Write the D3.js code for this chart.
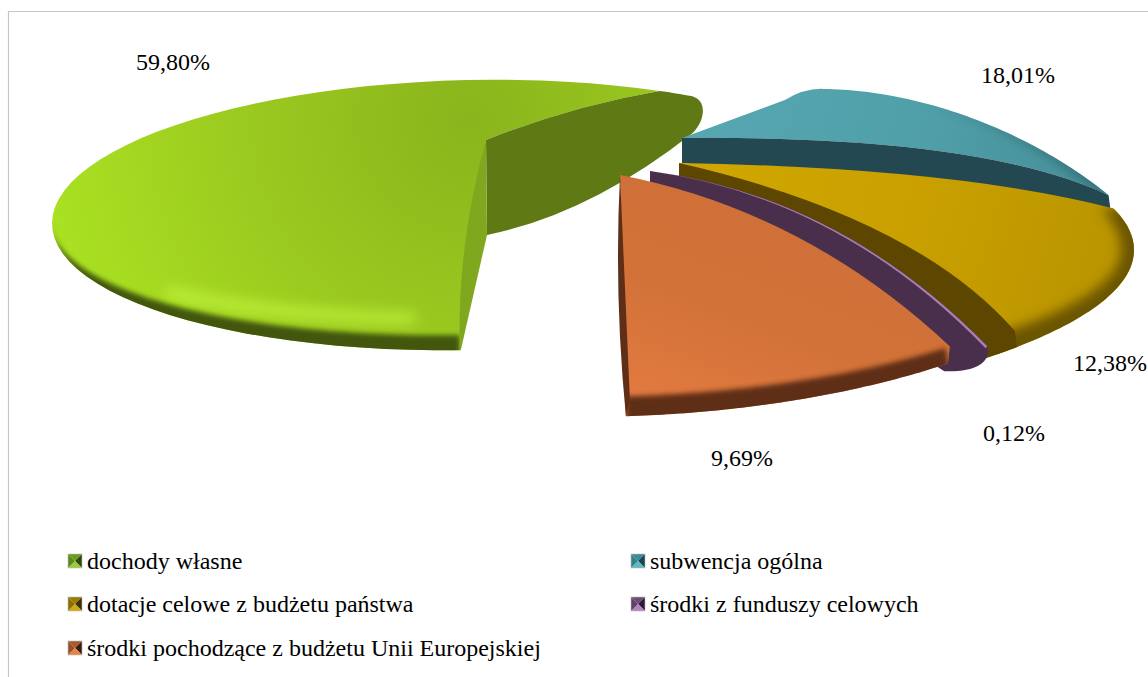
<!DOCTYPE html>
<html><head><meta charset="utf-8">
<style>html,body{margin:0;padding:0;background:#fff;overflow:hidden}svg{display:block}text{font-family:"Liberation Serif",serif;fill:#000}</style>
<script src="https://cdn.jsdelivr.net/npm/d3@7"></script></head><body><div id="c"></div>
<script>
// ---- data
const categories=["dochody własne","subwencja ogólna","dotacje celowe z budżetu państwa","środki z funduszy celowych","środki pochodzące z budżetu Unii Europejskiej"];
const shares=[59.80,18.01,12.38,0.12,9.69];
// ---- layout and style, per slice
const W=1148,H=677;
const rims=[
 {cx:470,cy:215,rx:418,ry:135,s:-.02,t0:91.4,k:.955,apex:[486,140]},
 {cx:920,cy:309,rx:300,ry:207,s:.25,t0:-115.7,k:.997,apex:[682,138]},
 {cx:200,cy:250,rx:934,ry:200,s:0,t0:-12,k:1.003,apex:[679,163]},
 {cx:600,cy:190,rx:450,ry:307,s:0,t0:30.6,k:1,apex:[650,171]},
 {cx:580,cy:190,rx:570,ry:227,s:0,t0:49.8,k:1.02,apex:[620,175]}
];
const walls=[
 {ox:0,oy:15,color:"#425610",blur:2.6,to:200},
 {ox:14,oy:0,color:"#35727c",blur:5},
 {ox:13,oy:32,color:"#6a5500",blur:6},
 {ox:0,oy:0,color:"#4a2f4d",blur:1},
 {ox:4,oy:20,color:"#5e2e17",blur:2.4}
];
const fills=[
 {type:"r",c:[470,120],r:420,stops:["#8ab41c","#9ac81f","#a9e022"]},
 {type:"l",a:[700,100],b:[1110,200],stops:["#56a7b1","#50a0aa","#468d97"]},
 {type:"l",a:[700,170],b:[1130,300],stops:["#d0a600","#c9a000","#b89300"]},
 {type:"l",a:[650,170],b:[986,350],stops:["#a97db5","#a97db5","#a97db5"]},
 {type:"l",a:[720,190],b:[640,400],stops:["#ce7038","#d27239","#e27a40"]}
];
const swatch=[
 ["#6c9c20","#2f4a08","#9acb3c","#5f8a1a"],["#3c8c98","#17464e","#60b8c4","#34808c"],
 ["#9a7c00","#3e3000","#d2aa10","#8a7000"],["#6e4c78","#2e1c34","#b284c0","#62426a"],
 ["#a85a2c","#3e1c0a","#e88448","#96502a"]];
const labelPos=[[136,70],[981,83],[1073,371],[983,441],[711,466]];
const legendPos=[[68,561],[631,561],[68,604],[631,604],[68,648]];
// ---- geometry from the data
const arcs=d3.pie().sort(null).value(d=>d)(shares);
const deg=r=>r*180/Math.PI, rad=d=>d*Math.PI/180;
const spans=arcs.map(a=>deg(a.endAngle-a.startAngle));
const tEnd=i=>rims[i].t0+rims[i].k*spans[i];
function R(i,t){const g=rims[i],a=rad(t),u=g.rx*Math.cos(a);return [g.cx+u,g.cy+g.s*u+g.ry*Math.sin(a)];}
function T(i,t){const p=R(i,t),a=rad(t),w=walls[i];return [p[0]-w.ox*Math.max(0,Math.cos(a)),p[1]-w.oy*Math.max(0,Math.sin(a))];}
function sample(fn,i,a,b,n=60){return d3.range(n+1).map(j=>fn(i,a+(b-a)*j/n));}
function qTo(p,from,to,bend){const m=[(from[0]+to[0])/2+bend[0],(from[1]+to[1])/2+bend[1]];p.quadraticCurveTo(m[0],m[1],to[0],to[1]);}
function rimTo(p,pts){pts.forEach(q=>p.lineTo(q[0],q[1]));}
function pathOf(fn){const p=d3.path();fn(p);return p.toString();}

const svg=d3.select("#c").append("svg").attr("width",W).attr("height",H);
const defs=svg.append("defs");
[...new Set(walls.map(w=>w.blur))].forEach(b=>defs.append("filter").attr("id","b"+String(b).replace(".","_")).attr("filterUnits","userSpaceOnUse").attr("x",0).attr("y",0).attr("width",W).attr("height",H).append("feGaussianBlur").attr("stdDeviation",b));
defs.append("filter").attr("id","hl").attr("filterUnits","userSpaceOnUse").attr("x",0).attr("y",0).attr("width",W).attr("height",H).append("feGaussianBlur").attr("stdDeviation",7);
fills.forEach((f,i)=>{
 const g=f.type==="r"?defs.append("radialGradient").attr("cx",f.c[0]).attr("cy",f.c[1]).attr("r",f.r):
  defs.append("linearGradient").attr("x1",f.a[0]).attr("y1",f.a[1]).attr("x2",f.b[0]).attr("y2",f.b[1]);
 g.attr("id","g"+i).attr("gradientUnits","userSpaceOnUse");
 f.stops.forEach((c,j)=>g.append("stop").attr("offset",j/2).attr("stop-color",c));
});
svg.append("path").attr("d",`M${W+2},11.5H8.5V${H+2}`).attr("fill","none").attr("stroke","#c6c6c6").attr("stroke-width",1.2);

function drawSlice(i,d){
 const g=rims[i],w=walls[i];
 const a=g.t0, b=w.to===undefined?tEnd(i):Math.min(tEnd(i),w.to);
 defs.append("clipPath").attr("id","c"+i).append("path").attr("d",d);
 svg.append("path").attr("d",d).attr("fill",`url(#g${i})`);
 const gg=svg.append("g").attr("clip-path",`url(#c${i})`);
 const wall=pathOf(p=>{
   const out=sample((j,t)=>{const v=R(j,t),r=rad(t);return [v[0]+w.ox*1.2*Math.max(0,Math.cos(r)),v[1]+w.oy*.8*Math.max(0,Math.sin(r))];},i,a,b);
   const q=sample(T,i,a,b).reverse();
   p.moveTo(out[0][0],out[0][1]);rimTo(p,out);rimTo(p,q);p.closePath();});
 gg.append("path").attr("d",wall).attr("fill",w.color).attr("filter",`url(#b${String(w.blur).replace(".","_")})`);
 return gg;
}

// green slice
(function(){
 const g=rims[0],A=g.apex,a=g.t0,b=tEnd(0),S=R(0,a),E=R(0,b);
 const top=pathOf(p=>{p.moveTo(A[0],A[1]);p.lineTo(S[0],S[1]);rimTo(p,sample(R,0,a,b));qTo(p,E,A,[0,-10]);p.closePath();});
 const gg=drawSlice(0,top);
 const hi=sample((j,t)=>{const q=R(j,t),s=Math.sin(rad(t));return [q[0],q[1]-(walls[j].oy+17)*s];},0,98,136);
 gg.insert("path",":first-child").attr("d",d3.line()(hi)).attr("fill","none").attr("stroke","#ccff44").attr("stroke-width",9).attr("stroke-linecap","round").attr("stroke-opacity",.8).attr("filter","url(#hl)");
 // far cut face (dark)
 const X=R(0,b+5), low=[E[0]+33,E[1]+42], B=[A[0]+1,A[1]+95];
 svg.append("path").attr("fill","#5f7a15").attr("d",pathOf(p=>{p.moveTo(A[0],A[1]);qTo(p,A,E,[0,-10]);rimTo(p,sample(R,0,b,b+5,8));
   p.bezierCurveTo(X[0]+16,X[1]+4,X[0]+14,X[1]+24,low[0],low[1]);qTo(p,low,B,[0,30]);p.closePath();}));
 // near cut face (light)
 svg.append("path").attr("fill","#80a81e").attr("d",pathOf(p=>{p.moveTo(A[0],A[1]);qTo(p,A,S,[-16,0]);p.lineTo(S[0]+1,S[1]);p.lineTo(B[0],B[1]);p.closePath();}));
})();

// teal slice
(function(){
 const g=rims[1],A=g.apex,a=g.t0,b=tEnd(1),S=R(1,a),E=R(1,b),S2=R(1,a+7);
 const bend=[85,-31.5];
 const top=pathOf(p=>{p.moveTo(A[0],A[1]);p.lineTo(S[0]-5,S[1]+10);p.quadraticCurveTo(S[0]+15,S[1]-2,S2[0],S2[1]);rimTo(p,sample(R,1,a+7,b));qTo(p,E,A,bend);p.closePath();});
 drawSlice(1,top);
 svg.append("path").attr("fill","#234852").attr("d",pathOf(p=>{p.moveTo(A[0],A[1]);qTo(p,A,E,bend);p.lineTo(E[0]+2,E[1]+15);p.lineTo(A[0],A[1]+25);p.closePath();}));
})();

// yellow slice
(function(){
 const g=rims[2],A=g.apex,a=g.t0,b=tEnd(2),S=R(2,a);
 const top=pathOf(p=>{p.moveTo(A[0],A[1]);qTo(p,A,S,[60,-18]);rimTo(p,sample(R,2,a,b));p.closePath();});
 drawSlice(2,top);
 const m=b-3.7, C=[R(2,m)[0]-2,R(2,m)[1]-16];
 svg.append("path").attr("fill","#5c4600").attr("d",pathOf(p=>{p.moveTo(A[0],A[1]);qTo(p,A,C,[68,-30]);rimTo(p,sample(R,2,m,b,8));p.lineTo(A[0],A[1]+19);p.closePath();}));
})();

// purple slice
(function(){
 const g=rims[3],A=g.apex,a=g.t0,b=tEnd(3),S=R(3,a),E=R(3,b);
 const end=[S[0]-43,S[1]+25];
 svg.append("path").attr("fill","#4a2f4d").attr("d",pathOf(p=>{p.moveTo(A[0],A[1]);qTo(p,A,S,[22,-62]);
   p.bezierCurveTo(S[0]+4,S[1]+14,S[0]-8,S[1]+26,end[0],end[1]);p.lineTo(A[0],A[1]+15);p.closePath();}));
 svg.append("path").attr("fill","#a97db5").attr("d",pathOf(p=>{p.moveTo(A[0],A[1]);qTo(p,A,S,[22,-62]);p.lineTo(E[0],E[1]);qTo(p,E,A,[22,-62]);p.closePath();}));
})();

// orange slice
(function(){
 const g=rims[4],A=g.apex,a=g.t0,b=tEnd(4),S=R(4,a),E=R(4,b),C=[S[0]+2,S[1]-17],I=[E[0]+4,E[1]-17];
 const top=pathOf(p=>{p.moveTo(A[0],A[1]);qTo(p,A,C,[20,-50]);p.lineTo(S[0],S[1]);rimTo(p,sample(R,4,a,b));p.closePath();});
 drawSlice(4,top);
 svg.append("path").attr("fill","#5e2e17").attr("d",pathOf(p=>{p.moveTo(A[0],A[1]);qTo(p,A,E,[-9,0]);p.lineTo(I[0],I[1]);p.closePath();}));
})();

// ---- value labels
const fmt=v=>v.toFixed(2).replace(".",",")+"%";
svg.selectAll("text.v").data(shares).join("text").attr("class","v").attr("x",(d,i)=>labelPos[i][0]).attr("y",(d,i)=>labelPos[i][1]).attr("font-size",24).text(fmt);

// ---- legend
const lg=svg.selectAll("g.l").data(categories).join("g").attr("class","l").attr("transform",(d,i)=>`translate(${legendPos[i][0]},${legendPos[i][1]})`);
const sz=14;
lg.each(function(d,i){
 const s=d3.select(this),c=swatch[i],x0=0,y0=-7,x1=sz,y1=7,mx=7,my=0;
 [[[x0,y0],[x1,y0],[mx,my],c[0]],[[x1,y0],[x1,y1],[mx,my],c[1]],[[x0,y1],[x1,y1],[mx,my],c[2]],[[x0,y0],[x0,y1],[mx,my],c[3]]].forEach(t=>{
  s.append("path").attr("d",d3.line()(t.slice(0,3))+"Z").attr("fill",t[3]);
 });
 s.append("rect").attr("x",x0).attr("y",y0).attr("width",sz).attr("height",sz).attr("fill","none").attr("stroke","#bdbdbd").attr("stroke-width",.6);
 s.append("text").attr("x",19).attr("y",8).attr("font-size",24).text(d);
});
</script></body></html>
